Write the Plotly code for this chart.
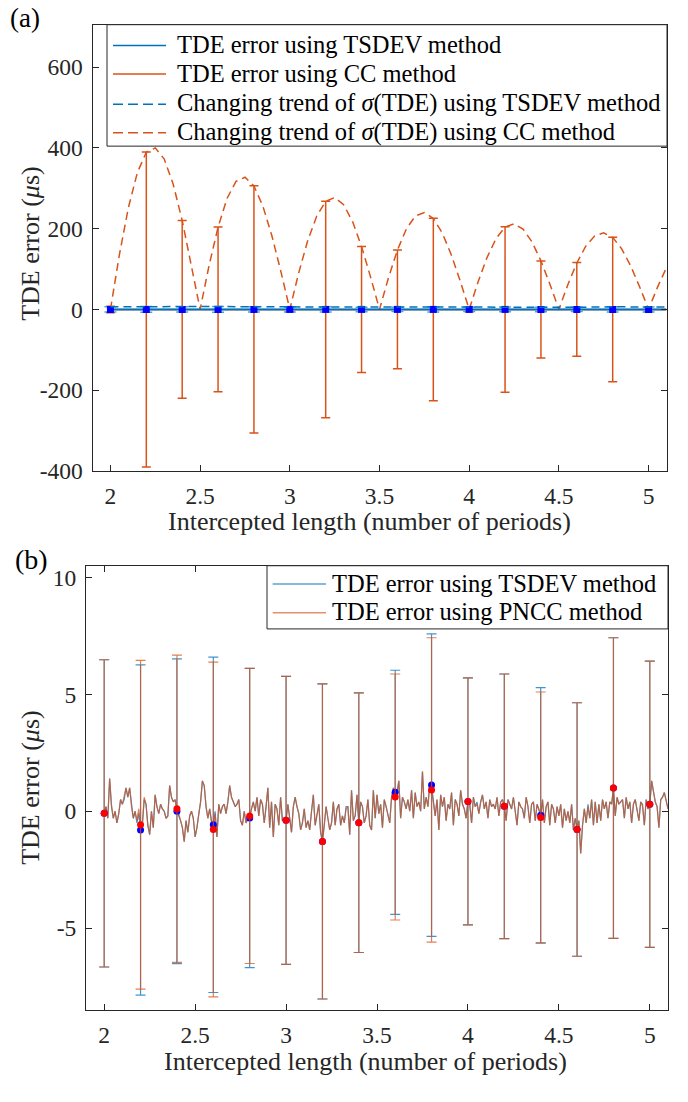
import plotly.graph_objects as go

FONT = "Liberation Serif"
BLUE = "#0072BD"
ORANGE = "#D95319"
TXT = "#262626"

# ---------------- Panel (a) data ----------------
a_x = [2.0, 2.2, 2.4, 2.6, 2.8, 3.0, 3.2, 3.4, 3.6, 3.8, 4.0, 4.2, 4.4, 4.6, 4.8, 5.0]
a_cc_mean = [0, 0, 0, 0, 0, 0, 0, 0, 0, 0, 0, 0, 0, 0, 0, 0]
a_cc_err = [8, 390, 220, 204, 306, 6, 268, 156, 147, 226, 6, 205, 120, 116, 179, 6]
a_tsdev_mean = [0, 0, 0, 0, 0, 0, 0, 0, 0, 0, 0, 0, 0, 0, 0, 0]
a_tsdev_err = [6.6, 7.1, 6.5, 7.2, 6.4, 6.2, 6.7, 5.6, 5.2, 6.5, 5.3, 5.7, 5.5, 5.4, 6.4, 6.1]

a_line_x = [2.0, 2.2, 2.4, 2.6, 2.8, 3.0, 3.2, 3.4, 3.6, 3.8, 4.0, 4.2, 4.4, 4.6, 4.8, 5.0, 5.1]
a_tsdev_line = [0, 0, 0, 0, 0, 0, 0, 0, 0, 0, 0, 0, 0, 0, 0, 0, 0]
a_cc_line = [0, 0, 0, 0, 0, 0, 0, 0, 0, 0, 0, 0, 0, 0, 0, 0, 0]
a_tsdev_trend = [6.6, 7.1, 6.5, 7.2, 6.4, 6.2, 6.7, 5.6, 5.2, 6.5, 5.3, 5.7, 5.5, 5.4, 6.4, 6.1, 6.0]

a_trend_x = [round(2.0 + 0.05 * i, 2) for i in range(63)]
a_cc_trend = [
    0, 135.7, 251.9, 338.7, 389.1, 400.0, 372.2, 309.8, 220.4, 113.5,
    0, 109.1, 203.5, 274.7, 317.0, 327.3, 305.7, 255.5, 182.4, 94.3,
    0, 91.2, 170.6, 231.1, 267.5, 276.9, 259.4, 217.4, 155.6, 80.6,
    0, 78.3, 147.0, 199.5, 231.3, 240.0, 225.3, 189.1, 135.6, 70.4,
    0, 68.7, 129.0, 175.4, 203.8, 211.8, 199.1, 167.4, 120.2, 62.5,
    0, 61.1, 115.0, 156.6, 182.1, 189.5, 178.3, 150.1, 108.0, 56.2,
    0, 55.1, 103.7]

a_xticks = [2, 2.5, 3, 3.5, 4, 4.5, 5]
a_xticktext = ["2", "2.5", "3", "3.5", "4", "4.5", "5"]
a_yticks = [-400, -200, 0, 200, 400, 600]
a_yticktext = ["-400", "-200", "0", "200", "400", "600"]

a_legend_labels = [
    "TDE error using TSDEV method",
    "TDE error using CC method",
    "Changing trend of <i>σ</i>(TDE) using TSDEV method",
    "Changing trend of <i>σ</i>(TDE) using CC method",
]

# ---------------- Panel (b) data ----------------
b_x = [round(2.0 + 0.01 * i, 2) for i in range(311)]
b_pncc_line = [
    -0.09, 0.2, -0.3, 1.4, 0.3, -0.3, 0.0, -0.5, -0.1, 0.5,
    0.3, 0.6, 1.0, 0.6, 1.0, 0.2, -0.3, 0.0, -0.4, 0.1,
    -0.58, -0.5, 0.6, 0.3, -0.6, -1.0, 0.0, -0.7, 0.7, 0.2,
    -0.1, 0.3, 0.1, 0.0, -0.3, -0.2, 1.1, 0.6, 0.4, 0.5,
    0.11, -0.1, -0.4, -0.7, -1.3, -0.4, -0.9, -0.2, 0.0, -0.3,
    -1.1, -0.7, -0.1, 0.4, 1.3, 1.1, 0.2, -0.3, 0.1, -0.5,
    -0.78, -0.1, -1.1, 0.3, -0.1, 0.2, 0.3, -0.1, 0.4, 1.1,
    0.6, 0.4, 0.2, 0.3, 0.5, -0.4, -0.6, 0.0, -0.5, -0.3,
    -0.2, 0.1, 0.4, 0.0, 0.6, -0.2, 0.5, 0.3, -0.5, 0.2,
    1.0, -0.7, 0.4, -1.1, 0.3, 0.1, -0.6, 0.6, -0.4, -0.3,
    -0.39, 0.3, -0.2, -0.9, 0.2, 0.6, 0.2, -0.1, -0.8, -0.5,
    0.1, -0.7, -0.4, -0.8, 0.0, 0.7, -0.6, -0.2, 0.3, -0.9,
    -1.29, -0.6, 0.2, -0.3, -0.8, -0.5, 0.4, -0.6, 0.1, 0.3,
    -0.6, -0.2, -0.5, 0.1, 0.2, -1.0, 0.9, -0.4, -0.2, 0.7,
    -0.49, 0.4, 0.2, -0.5, -0.2, 0.5, -0.6, -0.8, 0.9, -0.3,
    0.7, -0.1, 0.3, -0.7, 0.5, 0.2, -0.2, -0.5, 0.6, 1.0,
    0.61, 0.7, 1.3, -0.3, 0.6, 0.4, 0.1, 0.5, 0.0, 0.9,
    -0.3, 0.8, 0.2, 0.4, 0.0, 1.7, 0.1, 0.6, 0.2, 1.2,
    0.91, 0.3, -0.2, 0.5, -0.8, 0.7, 0.2, 0.6, -0.4, 0.3,
    0.1, 0.8, -0.6, 0.5, 0.3, -0.2, 0.9, 0.3, 0.1, -0.3,
    0.42, 0.3, -0.5, 0.6, 0.2, 0.3, -0.1, 0.4, 0.7, 0.1,
    0.4, -0.3, 0.5, 0.2, 0.3, 0.1, 0.6, -0.2, 0.4, 0.5,
    0.21, -0.4, 0.5, 0.3, 0.1, 0.6, 0.0, -0.6, 0.4, 0.2,
    0.1, -0.3, 0.6, 0.2, -0.5, 0.3, 0.4, -0.4, 0.3, 0.1,
    -0.27, 0.5, -0.5, 0.2, 0.4, -0.6, 0.3, 0.1, -0.5, 0.2,
    -0.2, 0.3, -0.7, 0.1, -0.4, 0.0, -0.5, 0.3, -0.8, -0.3,
    -0.78, -0.4, -1.8, -0.6, 0.1, -0.5, 0.2, -0.3, 0.5, -0.6,
    0.4, -0.5, 0.3, -0.4, 0.5, 0.1, 0.4, -0.3, 0.4, 0.3,
    0.99, -0.2, 0.6, 0.3, 0.4, 0.5, -0.3, 0.6, 0.1, 0.4,
    -0.5, 0.3, 0.5, 0.1, -0.4, 0.4, 0.2, -0.6, 0.5, 0.1,
    0.3, 1.3, 0.8, 0.4, 0.2, -0.7, 0.5, 0.6, 0.8, 0.5, 0.1]
b_tsdev_line = [
    -0.09, 0.2, -0.3, 1.4, 0.2, -0.3, 0.0, -0.5, -0.1, 0.5,
    0.3, 0.5, 1.0, 0.6, 1.0, 0.2, -0.3, 0.0, -0.5, -0.1,
    -0.80, -0.6, 0.5, 0.3, -0.6, -1.0, 0.0, -0.7, 0.7, 0.2,
    -0.1, 0.3, 0.1, 0.0, -0.3, -0.2, 1.1, 0.6, 0.4, 0.5,
    0.00, -0.2, -0.4, -0.7, -1.3, -0.4, -0.9, -0.2, 0.0, -0.3,
    -1.1, -0.7, -0.1, 0.4, 1.3, 1.1, 0.2, -0.3, 0.1, -0.4,
    -0.58, 0.0, -1.1, 0.3, -0.1, 0.2, 0.3, -0.1, 0.4, 1.1,
    0.6, 0.4, 0.2, 0.3, 0.5, -0.4, -0.6, 0.0, -0.5, -0.3,
    -0.29, 0.1, 0.4, 0.0, 0.6, -0.2, 0.5, 0.3, -0.5, 0.2,
    1.0, -0.7, 0.4, -1.1, 0.3, 0.1, -0.6, 0.6, -0.4, -0.3,
    -0.39, 0.3, -0.2, -0.9, 0.2, 0.6, 0.2, -0.1, -0.8, -0.5,
    0.1, -0.7, -0.4, -0.8, 0.0, 0.7, -0.6, -0.2, 0.3, -0.9,
    -1.29, -0.6, 0.2, -0.3, -0.8, -0.5, 0.4, -0.6, 0.1, 0.3,
    -0.6, -0.2, -0.5, 0.2, 0.2, -1.0, 0.9, -0.4, -0.2, 0.7,
    -0.49, 0.4, 0.2, -0.5, -0.2, 0.5, -0.6, -0.8, 0.9, -0.3,
    0.7, -0.1, 0.3, -0.7, 0.5, 0.2, -0.2, -0.5, 0.6, 1.0,
    0.81, 0.8, 1.3, -0.3, 0.6, 0.4, 0.1, 0.5, 0.0, 0.9,
    -0.3, 0.8, 0.2, 0.4, 0.0, 1.7, 0.1, 0.6, 0.2, 1.2,
    1.12, 0.4, -0.2, 0.5, -0.8, 0.7, 0.2, 0.6, -0.4, 0.3,
    0.1, 0.8, -0.6, 0.5, 0.3, -0.2, 0.9, 0.3, 0.1, -0.3,
    0.42, 0.3, -0.5, 0.6, 0.2, 0.4, -0.1, 0.4, 0.7, 0.1,
    0.4, -0.3, 0.5, 0.2, 0.3, 0.1, 0.6, -0.2, 0.4, 0.5,
    0.21, -0.4, 0.5, 0.3, 0.1, 0.6, 0.0, -0.6, 0.4, 0.2,
    0.1, -0.3, 0.6, 0.2, -0.5, 0.3, 0.4, -0.4, 0.3, 0.1,
    -0.17, 0.5, -0.5, 0.2, 0.4, -0.6, 0.3, 0.1, -0.5, 0.2,
    -0.2, 0.3, -0.7, 0.1, -0.4, 0.0, -0.5, 0.3, -0.8, -0.3,
    -0.78, -0.4, -1.8, -0.6, 0.1, -0.5, 0.3, -0.3, 0.5, -0.6,
    0.4, -0.5, 0.3, -0.4, 0.5, 0.1, 0.4, -0.3, 0.4, 0.3,
    0.99, -0.2, 0.6, 0.3, 0.4, 0.5, -0.3, 0.6, 0.1, 0.4,
    -0.5, 0.3, 0.5, 0.1, -0.4, 0.4, 0.3, -0.6, 0.5, 0.1,
    0.3, 1.3, 0.8, 0.4, 0.2, -0.7, 0.5, 0.6, 0.8, 0.5, 0.1]

b_pt_x = [2.0, 2.2, 2.4, 2.6, 2.8, 3.0, 3.2, 3.4, 3.6, 3.8, 4.0, 4.2, 4.4, 4.6, 4.8, 5.0]
b_pncc_mean = [-0.09, -0.58, 0.11, -0.78, -0.20, -0.39, -1.29, -0.49, 0.61, 0.91, 0.42, 0.21, -0.27, -0.78, 0.99, 0.30]
b_pncc_err = [6.57, 7.03, 6.57, 7.16, 6.31, 6.16, 6.74, 5.55, 5.26, 6.51, 5.28, 5.66, 5.37, 5.42, 6.43, 6.12]
b_tsdev_mean = [-0.09, -0.80, 0.00, -0.58, -0.29, -0.39, -1.29, -0.49, 0.81, 1.12, 0.42, 0.21, -0.17, -0.78, 0.99, 0.30]
b_tsdev_err = [6.57, 7.06, 6.52, 7.17, 6.40, 6.16, 6.74, 5.55, 5.22, 6.47, 5.28, 5.66, 5.46, 5.42, 6.43, 6.12]

b_yticks = [-5, 0, 5, 10]
b_yticktext = ["-5", "0", "5", "10"]

b_legend_labels = ["TDE error using TSDEV method", "TDE error using PNCC method"]

# ---------------- Figure ----------------
W, H = 688, 1102
fig = go.Figure()

def px_x(p):
    return p / W

def px_y(p):
    return 1 - p / H

# Panel (a)
fig.add_trace(go.Scatter(
    x=a_x, y=a_cc_mean, mode="markers", marker=dict(size=1, color=ORANGE),
    error_y=dict(type="data", array=a_cc_err, visible=True, color=ORANGE, thickness=1.5, width=4.5),
    showlegend=False, hoverinfo="skip", xaxis="x", yaxis="y"))
fig.add_trace(go.Scatter(
    x=a_line_x, y=a_cc_line, mode="lines", line=dict(color=ORANGE, width=1.5),
    name=a_legend_labels[1], showlegend=False, xaxis="x", yaxis="y"))
fig.add_trace(go.Scatter(
    x=a_trend_x, y=a_cc_trend, mode="lines", line=dict(color=ORANGE, width=1.5, dash="8px,5px"),
    name=a_legend_labels[3], showlegend=False, xaxis="x", yaxis="y"))
fig.add_trace(go.Scatter(
    x=a_line_x, y=a_tsdev_line, mode="lines", line=dict(color=BLUE, width=2),
    name=a_legend_labels[0], showlegend=False, xaxis="x", yaxis="y"))
fig.add_trace(go.Scatter(
    x=a_x, y=a_tsdev_mean, mode="markers",
    marker=dict(symbol="square", size=7, color="#0000FF"),
    error_y=dict(type="data", array=a_tsdev_err, visible=True, color="#4DA3DB", thickness=1.5, width=6),
    showlegend=False, hoverinfo="skip", xaxis="x", yaxis="y"))
fig.add_trace(go.Scatter(
    x=a_line_x, y=a_tsdev_trend, mode="lines", line=dict(color=BLUE, width=1.5, dash="8px,5px"),
    name=a_legend_labels[2], showlegend=False, xaxis="x", yaxis="y"))

# Panel (b)
B_BLUE = "rgba(0,114,189,0.75)"
B_ORANGE = "rgba(217,83,25,0.75)"
fig.add_trace(go.Scatter(
    x=b_x, y=b_tsdev_line, mode="lines", line=dict(color=B_BLUE, width=1.2),
    name=b_legend_labels[0], showlegend=False, xaxis="x2", yaxis="y2"))
fig.add_trace(go.Scatter(
    x=b_x, y=b_pncc_line, mode="lines", line=dict(color=B_ORANGE, width=1.2),
    name=b_legend_labels[1], showlegend=False, xaxis="x2", yaxis="y2"))
fig.add_trace(go.Scatter(
    x=b_pt_x, y=b_tsdev_mean, mode="markers", marker=dict(size=7, color="#0000FF"),
    error_y=dict(type="data", array=b_tsdev_err, visible=True, color=B_BLUE, thickness=1.2, width=5),
    showlegend=False, hoverinfo="skip", xaxis="x2", yaxis="y2"))
fig.add_trace(go.Scatter(
    x=b_pt_x, y=b_pncc_mean, mode="markers", marker=dict(size=7, color="#FF0000"),
    error_y=dict(type="data", array=b_pncc_err, visible=True, color=B_ORANGE, thickness=1.2, width=5),
    showlegend=False, hoverinfo="skip", xaxis="x2", yaxis="y2"))

axis_common = dict(
    showline=True, linecolor=TXT, linewidth=1, mirror="ticks", ticks="inside",
    ticklen=6, tickcolor=TXT, showgrid=False, zeroline=False,
    tickfont=dict(family=FONT, size=23.5, color=TXT))

fig.update_layout(
    width=W, height=H, margin=dict(l=0, r=0, t=0, b=0),
    plot_bgcolor="white", paper_bgcolor="white",
    font=dict(family=FONT, color=TXT),
    showlegend=False,
    xaxis=dict(domain=[px_x(92.5), px_x(666.5)], range=[1.9, 5.1], anchor="y",
               tickvals=a_xticks, ticktext=a_xticktext, ticklabelstandoff=4, **axis_common),
    yaxis=dict(domain=[px_y(476), px_y(24)], range=[-400, 705], anchor="x",
               tickvals=a_yticks, ticktext=a_yticktext, ticklabelstandoff=4, **axis_common),
    xaxis2=dict(domain=[px_x(86), px_x(668)], range=[1.9, 5.1], anchor="y2",
                tickvals=a_xticks, ticktext=a_xticktext, ticklabelstandoff=4, **axis_common),
    yaxis2=dict(domain=[px_y(1022), px_y(572)], range=[-8.5, 10.5], anchor="x2",
                tickvals=b_yticks, ticktext=b_yticktext, ticklabelstandoff=4, **axis_common),
)

# ---- Legend boxes (drawn as shapes + text) ----
LEG_FONT = dict(family=FONT, size=24.5, color="black")

def add_legend(box, samples, labels, text_x, rows_y, sample_x):
    x0, y0, x1, y1 = box
    fig.add_shape(type="rect", xref="paper", yref="paper",
                  x0=px_x(x0), x1=px_x(x1), y0=px_y(y1), y1=px_y(y0),
                  line=dict(color=TXT, width=1), fillcolor="white", layer="above")
    for (color, dash), label, ry in zip(samples, labels, rows_y):
        fig.add_shape(type="line", xref="paper", yref="paper",
                      x0=px_x(sample_x[0]), x1=px_x(sample_x[1]),
                      y0=px_y(ry + 1), y1=px_y(ry + 1),
                      line=dict(color=color, width=1.5, dash=dash), layer="above")
        fig.add_annotation(text=label, x=px_x(text_x), y=px_y(ry), xref="paper", yref="paper",
                           xanchor="left", yanchor="middle", showarrow=False, font=LEG_FONT)

add_legend((107, 24, 667, 147),
           [(BLUE, "solid"), (ORANGE, "solid"), (BLUE, "10px,5px"), (ORANGE, "10px,5px")],
           a_legend_labels, 175, [44, 73, 103.5, 132.5], (113, 166))
add_legend((267, 572, 668, 636),
           [("rgba(0,114,189,0.65)", "solid"), ("rgba(217,83,25,0.65)", "solid")],
           b_legend_labels, 330, [589.5, 618.5], (272.7, 326))

# ---- Panel labels and axis titles ----
ann_font = dict(family=FONT, size=26, color=TXT)
fig.add_annotation(text="(a)", x=px_x(8), y=1, xref="paper", yref="paper",
                   xanchor="left", yanchor="top", showarrow=False,
                   font=dict(family=FONT, size=27, color="black"))
fig.add_annotation(text="(b)", x=px_x(13), y=px_y(566), xref="paper", yref="paper",
                   xanchor="left", yanchor="middle", showarrow=False,
                   font=dict(family=FONT, size=28, color="black"))
fig.add_annotation(text="TDE error (<i>μ</i>s)", x=px_x(31), y=px_y(246), xref="paper", yref="paper",
                   textangle=-90, xanchor="center", yanchor="middle", showarrow=False, font=ann_font)
fig.add_annotation(text="TDE error (<i>μ</i>s)", x=px_x(31), y=px_y(797), xref="paper", yref="paper",
                   textangle=-90, xanchor="center", yanchor="middle", showarrow=False, font=ann_font)
fig.add_annotation(text="Intercepted length (number of periods)", x=px_x(370), y=px_y(527),
                   xref="paper", yref="paper", xanchor="center", yanchor="middle",
                   showarrow=False, font=ann_font)
fig.add_annotation(text="Intercepted length (number of periods)", x=px_x(365), y=px_y(1074),
                   xref="paper", yref="paper", xanchor="center", yanchor="middle",
                   showarrow=False, font=ann_font)

post = (
    "document.body.style.margin='0px';"
    "document.documentElement.style.overflow='hidden';"
    "document.body.style.overflow='hidden';"
)
fig.write_html("out.html", config={"displayModeBar": False}, post_script=post)
